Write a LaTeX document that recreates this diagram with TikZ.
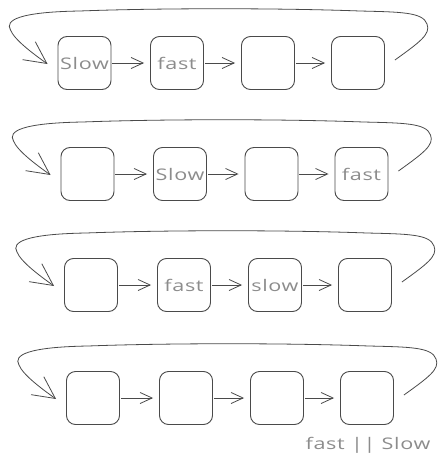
\documentclass[tikz,border=0pt]{standalone}
\usepackage{fontspec}
\setmainfont{Open Sans}
\newfontfamily\handfont{Open Sans}[FakeStretch=1.35,LetterSpace=4]
\usetikzlibrary{arrows.meta,calc}
\definecolor{linecol}{HTML}{4A4A4A}
\definecolor{txtcol}{HTML}{8C8C8C}
\tikzset{
  cell/.style={draw=linecol, line width=0.9pt, rounded corners=9pt, minimum width=53pt, minimum height=53pt, inner sep=0pt, text=txtcol, font=\handfont\fontsize{16}{16}\selectfont},
  link/.style={draw=linecol, line width=0.8pt, -{Straight Barb[length=12pt,width=11pt]}},
  looparrow/.style={draw=linecol, line width=0.8pt, -{Straight Barb[length=22pt,width=22pt]}},
  note/.style={text=txtcol, font=\handfont\fontsize{16}{16}\selectfont}
}
\begin{document}
\begin{tikzpicture}[x=1pt,y=-1pt]
\useasboundingbox (0,0) rectangle (444,469);
\foreach \r/\y/\xa/\xb/\xc/\xd/\la/\lb/\lc/\ld in {
  1/63/84.5/177/268/358/Slow/fast//,
  2/174/87.5/180/271.5/361.5//Slow//fast,
  3/285/91/184/275/365//fast/slow/,
  4/398/93/186/277/367////}{
  \node[cell] (b\r a) at (\xa,\y) {\la};
  \node[cell] (b\r b) at (\xb,\y) {\lb};
  \node[cell] (b\r c) at (\xc,\y) {\lc};
  \node[cell] (b\r d) at (\xd,\y) {\ld};
  \draw[link, shorten <=1pt, shorten >=6pt] (b\r a.east) -- (b\r b.west);
  \draw[link, shorten <=1pt, shorten >=6pt] (b\r b.east) -- (b\r c.west);
  \draw[link, shorten <=1pt, shorten >=6pt] (b\r c.east) -- (b\r d.west);
  \coordinate (s\r) at ($(b\r d.east)+(10,-3)$);
  \coordinate (t\r) at ($(b\r a.west)+(-10,1)$);
  \draw[looparrow] (s\r) .. controls +(25,-18) and +(4,10) .. ($(b\r d.center)+(69,-39)$)
     .. controls +(-4,-12) and +(40,1) .. ($(b\r d.center)+(2,-52)$)
     .. controls +(-80,-3) and +(80,-3) .. ($(b\r a.center)+(-5,-52)$)
     .. controls +(-60,1) and +(-6,-10) .. ($(b\r a.center)+(-74,-33)$)
     .. controls +(4,10) and +(-14,-10) .. (t\r);
}
\node[note] (lbl) at (368,445) {fast || Slow};
\end{tikzpicture}
\end{document}
